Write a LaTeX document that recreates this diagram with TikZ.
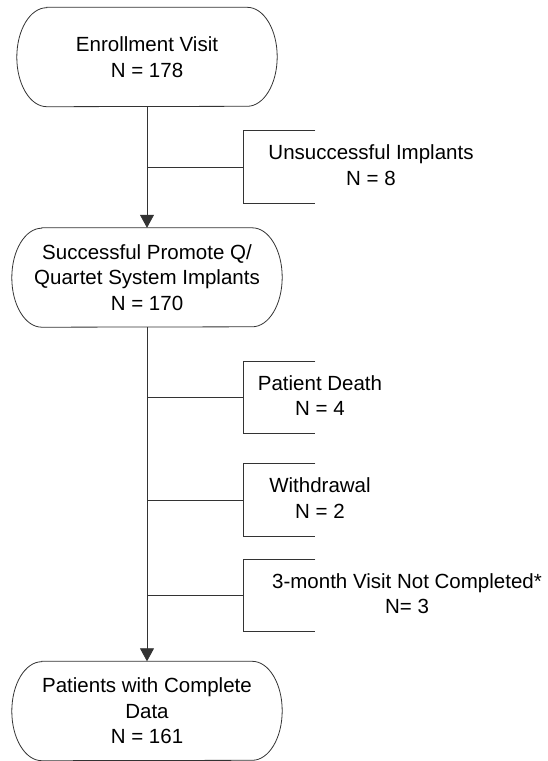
\documentclass[tikz,border=0pt]{standalone}
\usepackage{fontspec}
\setmainfont{Liberation Sans}
\usetikzlibrary{positioning,arrows.meta}

\tikzset{
  flow/.style={line width=0.8pt, draw=black!80},
  stadium/.style={minimum height=99pt, align=center, inner sep=0pt},
  bracketbox/.style={minimum width=72pt, minimum height=72pt, inner sep=0pt, anchor=west},
  exclnote/.style={align=center, inner sep=0pt},
  tip/.style={-{Triangle[width=14pt,length=13pt]}},
}

\begin{document}
\begin{tikzpicture}[x=1pt,y=1pt]
    \fontsize{20.5}{25.5}\selectfont
    \useasboundingbox (0,0) rectangle (548,-761);

    % main boxes
    \node[stadium, minimum width=260pt] (enroll) at (147,-57) {Enrollment Visit\\N = 178};
    \node[stadium, minimum width=270pt] (implant) at (147,-277.5) {Successful Promote Q/\\Quartet System Implants\\N = 170};
    \node[stadium, minimum width=270pt] (complete) at (147,-711) {Patients with Complete\\Data\\N = 161};

    \foreach \n in {enroll,implant,complete} {
        \draw[flow] ([xshift=30pt]\n.north west) -- ([xshift=-30pt]\n.north east)
            arc[start angle=90, end angle=-90, x radius=30pt, y radius=49.5pt]
            -- ([xshift=30pt]\n.south west)
            arc[start angle=270, end angle=90, x radius=30pt, y radius=49.5pt] -- cycle;
    }

    \draw[flow,tip] (enroll) -- (implant);
    \draw[flow,tip] (implant) -- (complete);

    % exclusions
    \foreach \nm/\yy/\tx/\txt in {unsucc/-167/371/{Unsuccessful Implants\\N = 8},
                                  death/-397.5/320/{Patient Death\\N = 4},
                                  withdr/-500/320/{Withdrawal\\N = 2},
                                  visit/-595.5/407/{3-month Visit Not Completed*\\N= 3}} {
        \node[bracketbox] (\nm) at (243,\yy) {};
        \draw[flow] (\nm.north east) -- (\nm.north west) -- (\nm.south west) -- (\nm.south east);
        \draw[flow] (enroll.south |- \nm.west) -- (\nm.west);
        \node[exclnote] (\nm txt) at (\tx,\yy+2) {\txt};
    }
\end{tikzpicture}
\end{document}
